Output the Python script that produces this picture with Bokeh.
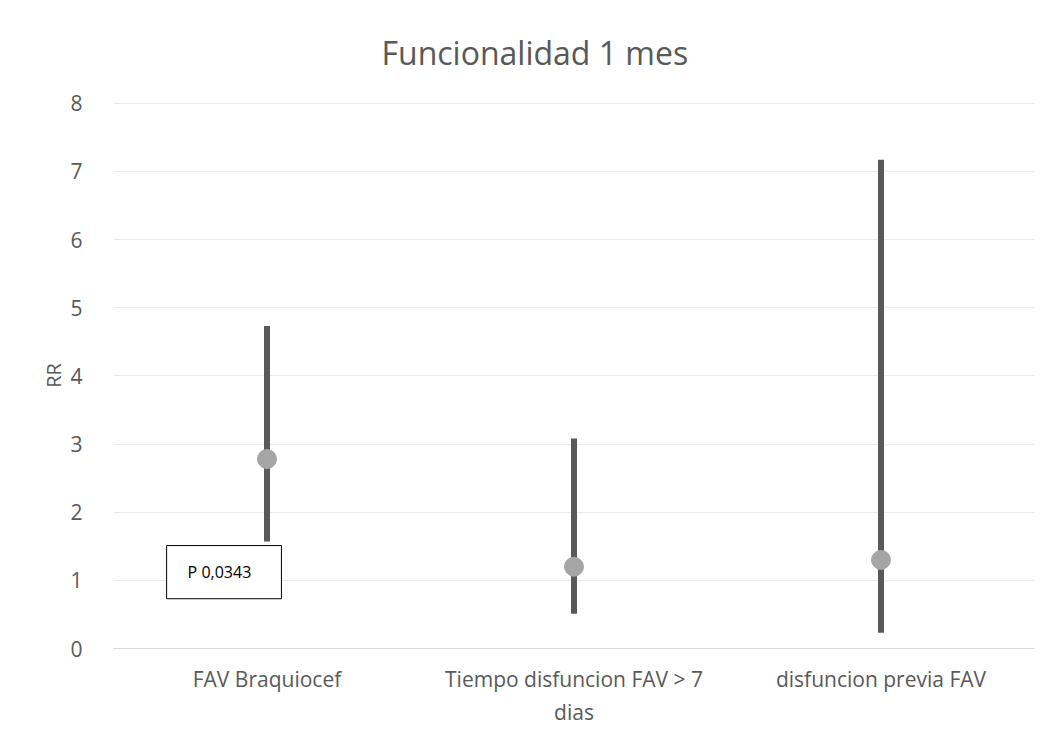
from bokeh.plotting import figure
from bokeh.models import ColumnDataSource, Label, BoxAnnotation, FactorRange, Range1d
from bokeh.embed import file_html
from bokeh.resources import INLINE

categories = ["FAV Braquiocef", "Tiempo disfuncion FAV > 7\ndias", "disfuncion previa FAV"]
rr = [2.78, 1.20, 1.30]
ci_low = [1.57, 0.51, 0.23]
ci_high = [4.73, 3.08, 7.17]
y_ticks = [0, 1, 2, 3, 4, 5, 6, 7, 8]

FONT = "Open Sans"
GREY = "#595959"

p = figure(width=1054, height=734, x_range=FactorRange(*categories), y_range=Range1d(0, 8.01),
           output_backend="svg", toolbar_location=None,
           min_border_left=113, min_border_right=20, min_border_top=102, min_border_bottom=86)
p.x_range.range_padding = 0
p.outline_line_color = None
p.background_fill_color = "white"
p.border_fill_color = "white"

p.title.text = "Funcionalidad 1 mes"
p.title.text_font = FONT
p.title.text_font_size = "32px"
p.title.text_font_style = "normal"
p.title.text_color = GREY
p.title.align = "left"
p.title.offset = 268
p.title.standoff = 57

src = ColumnDataSource(dict(cat=categories, rr=rr, lo=ci_low, hi=ci_high))
p.segment(x0="cat", y0="lo", x1="cat", y1="hi", source=src, line_color=GREY, line_width=6)
p.scatter(x="cat", y="rr", source=src, size=19, fill_color="#a5a5a5", line_color="#a5a5a5")

p.yaxis.ticker = y_ticks
p.ygrid.grid_line_color = "#ebebeb"
p.ygrid.grid_line_width = 1
p.xgrid.grid_line_color = None

for ax in (p.xaxis[0], p.yaxis[0]):
    ax.major_tick_line_color = None
    ax.minor_tick_line_color = None
    ax.major_label_text_font = FONT
    ax.major_label_text_font_size = "21px"
    ax.major_label_text_color = GREY
p.yaxis.axis_line_color = None
p.xaxis.axis_line_color = "#d9d9d9"
p.xaxis.axis_line_width = 1
p.xaxis.major_label_standoff = 10
p.yaxis.major_label_standoff = 25

p.yaxis.axis_label = "RR"
p.yaxis.axis_label_text_font = FONT
p.yaxis.axis_label_text_font_size = "20px"
p.yaxis.axis_label_text_font_style = "normal"
p.yaxis.axis_label_text_color = GREY
p.yaxis.axis_label_standoff = 0

box = BoxAnnotation(left=0.173, right=0.547, bottom=0.73, top=1.51,
                    fill_color="white", fill_alpha=1, line_color="black", line_alpha=1,
                    line_width=1)
p.add_layout(box)
p.add_layout(Label(x=0.173, y=1.12, text="P 0,0343", x_offset=21, text_baseline="middle",
                   text_font=FONT, text_font_size="16px", text_color="black"))

open("out.html", "w").write(file_html(p, INLINE))
